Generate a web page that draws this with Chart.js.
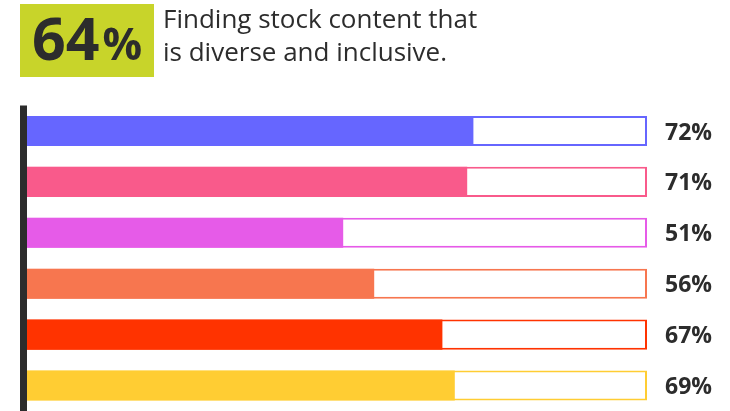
<!DOCTYPE html>
<html>
<head>
<meta charset="utf-8">
<script src="https://cdn.jsdelivr.net/npm/chart.js@4"></script>
<style>
  body { margin: 0; width: 730px; height: 411px; overflow: hidden; background: #fff; font-family: "Open Sans", sans-serif; color: #2c2c2c; }
  #badge { position: absolute; left: 20px; top: 4px; width: 134px; height: 73px; background: #c8d42a; z-index: 2; }
  #badge .txt { position: absolute; left: 12px; top: -3px; height: 73px; line-height: 73px; font-weight: 700; white-space: nowrap; }
  #badge .num { font-size: 59px; }
  #badge .pct { font-size: 44px; margin-left: 3px; }
  #title { position: absolute; left: 163px; top: 2px; font-size: 26px; line-height: 33px; z-index: 2; }
  #chart_container { position: absolute; left: 0; top: 0; width: 730px; height: 411px; }
</style>
</head>
<body>
<div id="badge"><div class="txt"><span class="num">64</span><span class="pct">%</span></div></div>
<div id="title">Finding stock content that<br>is diverse and inclusive.</div>
<div id="chart_container"><canvas id="chart_canvas" width="730" height="411"></canvas></div>
<script>
var categories = ["A", "B", "C", "D", "E", "F"];
var values = [72, 71, 51, 56, 67, 69];
var totals = [100, 100, 100, 100, 100, 100];
var tickLabels = ["72%", "71%", "51%", "56%", "67%", "69%"];
var barColors = ["#6666ff", "#f95a8b", "#e65be8", "#f7764f", "#ff3300", "#ffcd33"];

// dark vertical rule on the left + percent labels on the right
var extrasPlugin = {
    id: "extras",
    afterDatasetsDraw: function (chart) {
        var ctx = chart.ctx;
        var area = chart.chartArea;
        ctx.save();
        ctx.fillStyle = "#2c2c2c";
        ctx.fillRect(area.left - 7, area.top, 7, area.bottom - area.top);
        ctx.font = "bold 23px 'Open Sans'";
        ctx.textBaseline = "middle";
        var meta = chart.getDatasetMeta(1);
        meta.data.forEach(function (bar, i) {
            ctx.fillText(tickLabels[i], 665, bar.y + 2);
        });
        ctx.restore();
    }
};

var graph = new Chart(document.getElementById("chart_canvas"), {
    type: "bar",
    data: {
        labels: categories,
        datasets: [{
            data: values,
            backgroundColor: barColors,
            borderWidth: 0,
            grouped: false,
            categoryPercentage: 1,
            barPercentage: 0.59
        }, {
            data: totals,
            backgroundColor: "#ffffff",
            borderColor: barColors,
            borderWidth: 2,
            borderSkipped: false,
            grouped: false,
            categoryPercentage: 1,
            barPercentage: 0.59
        }]
    },
    options: {
        indexAxis: "y",
        responsive: false,
        animation: false,
        layout: { padding: { top: 105.5, left: 27, right: 83, bottom: 0 } },
        scales: {
            x: { display: false, min: 0, max: 100 },
            y: { display: false }
        },
        plugins: {
            legend: { display: false },
            tooltip: { enabled: false }
        }
    },
    plugins: [extrasPlugin]
});
</script>
</body>
</html>
